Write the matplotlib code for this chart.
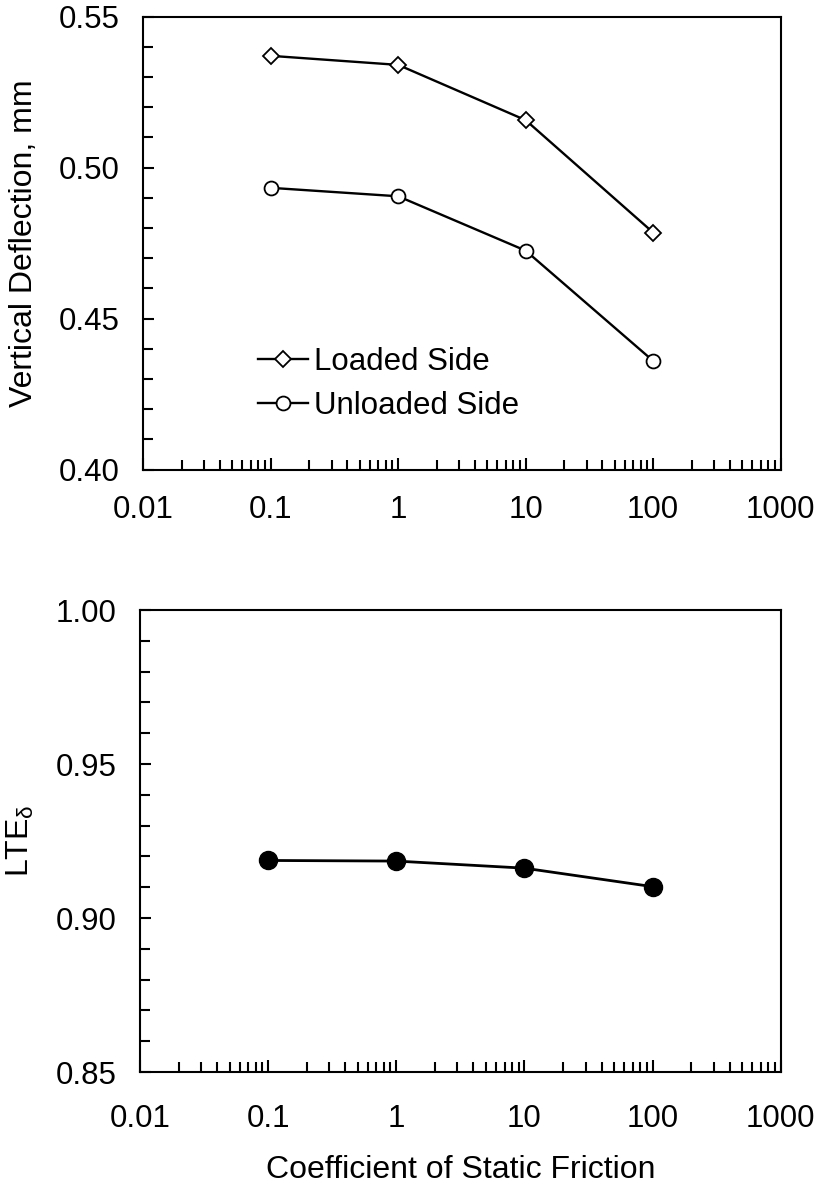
import matplotlib
matplotlib.use("Agg")
import matplotlib.pyplot as plt
from matplotlib.ticker import MultipleLocator, LogLocator, FixedLocator

plt.rcParams['font.family'] = ['Liberation Sans', 'DejaVu Sans']
plt.rcParams['mathtext.fontset'] = 'custom'
plt.rcParams['mathtext.rm'] = 'Liberation Sans'
plt.rcParams['mathtext.it'] = 'Liberation Sans:italic'

friction = [0.1, 1, 10, 100]
loaded = [0.537, 0.534, 0.5157, 0.4785]
unloaded = [0.4933, 0.4905, 0.4725, 0.436]
lte = [0.9187, 0.9185, 0.9162, 0.9102]

xticks = [0.01, 0.1, 1, 10, 100, 1000]
xlabels = ['0.01', '0.1', '1', '10', '100', '1000']

fig = plt.figure(figsize=(8.14, 11.83), dpi=100)
ax1 = fig.add_axes([0.176, 0.603, 0.783, 0.383])
ax2 = fig.add_axes([0.172, 0.0938, 0.787, 0.3905])

fs = 22.5


def style_axis(ax, ymin, ymax, xpad):
    ax.set_xscale('log')
    ax.set_xlim(0.01, 1000)
    ax.set_ylim(ymin, ymax)
    ax.xaxis.set_major_locator(FixedLocator(xticks))
    ax.set_xticklabels(xlabels)
    ax.xaxis.set_minor_locator(LogLocator(base=10, subs=range(2, 10), numticks=20))
    ax.yaxis.set_major_locator(MultipleLocator(0.05))
    ax.yaxis.set_minor_locator(MultipleLocator(0.01))
    ax.yaxis.set_major_formatter(plt.FormatStrFormatter('%.2f'))
    ax.tick_params(which='both', direction='in', top=False, right=False,
                   width=1.5, labelsize=fs)
    ax.tick_params(axis='y', which='major', length=8, pad=17)
    ax.tick_params(axis='y', which='minor', length=7)
    ax.tick_params(axis='x', which='major', length=9, pad=xpad)
    ax.tick_params(axis='x', which='minor', length=7)
    for s in ax.spines.values():
        s.set_linewidth(1.5)


style_axis(ax1, 0.40, 0.55, 18)
ax1.plot(friction, loaded, '-', color='black', lw=1.7, marker='D',
         markersize=8, markerfacecolor='white', markeredgecolor='black',
         markeredgewidth=1.3, label='Loaded Side')
ax1.plot(friction, unloaded, '-', color='black', lw=1.7, marker='o',
         markersize=10, markerfacecolor='white', markeredgecolor='black',
         markeredgewidth=1.3, label='Unloaded Side')
ax1.set_ylabel('Vertical Deflection, mm', fontsize=23, labelpad=14)
ax1.legend(loc='lower left', bbox_to_anchor=(0.16, 0.08), frameon=False,
           fontsize=fs, handlelength=1.6, handletextpad=0.2,
           labelspacing=0.45, borderaxespad=0)

style_axis(ax2, 0.85, 1.00, 23)
ax2.plot(friction, lte, '-', color='black', lw=2, marker='o',
         markersize=13, markerfacecolor='black', markeredgecolor='black')
ax2.set_ylabel(r'LTE$_{\mathregular{\delta}}$', fontsize=23, labelpad=14)
ax2.set_xlabel('Coefficient of Static Friction', fontsize=23, labelpad=15)

fig.savefig('out.png', dpi=100)
